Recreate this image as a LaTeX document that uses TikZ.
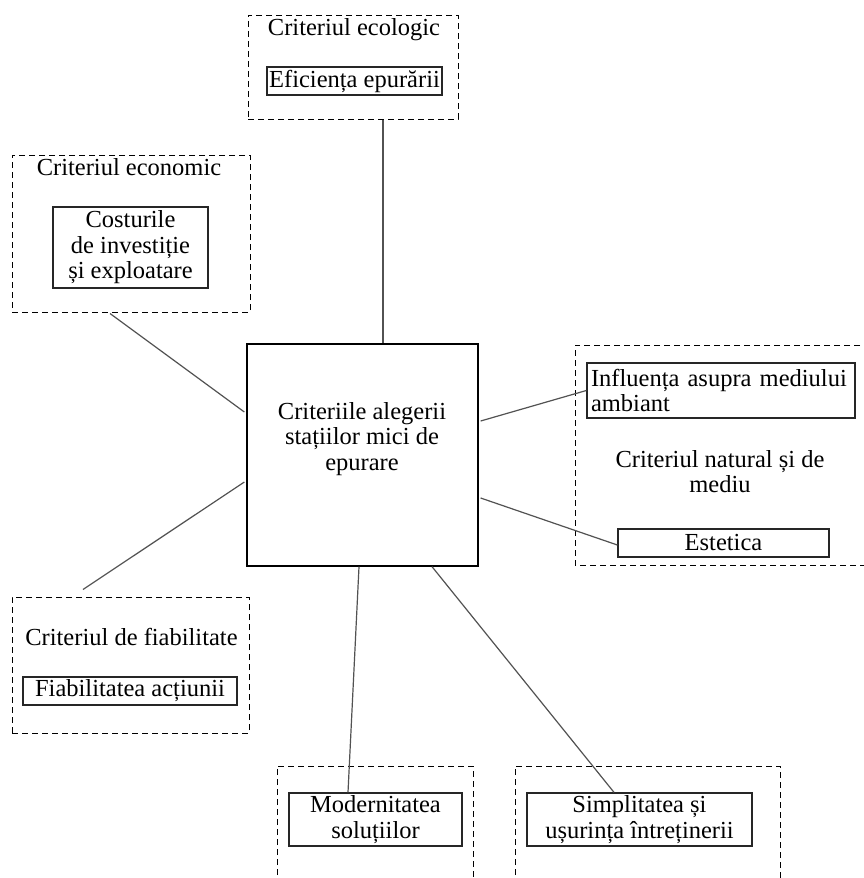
\documentclass[tikz,border=0pt]{standalone}
\usepackage{fontspec}
\setmainfont{Liberation Serif}
\usetikzlibrary{calc}
\begin{document}
\begin{tikzpicture}[x=1pt,y=-1pt,
  every node/.style={font=\fontsize{24.5}{25.5}\selectfont, inner sep=0pt, text=black},
  dbox/.style={draw=black, line width=1pt, dash pattern=on 6pt off 4pt},
  dline/.style={draw=black, line width=1pt, dash pattern=on 6pt off 4pt},
  sbox/.style={draw=black!85, line width=1.3pt, align=center},
  txt/.style={align=center},
  conn/.style={draw=black!68, line width=1.2pt}]
\useasboundingbox (0,0) rectangle (864,878);
\clip (0,0) rectangle (864,878);
\fill[white] (0,0) rectangle (864,878);

% ecologic
\node[dbox, minimum width=210pt, minimum height=104pt] (ecobox) at (353,67) {};
\node[txt, anchor=base] (ecotitle) at (354,35) {Criteriul ecologic};
\node[sbox, minimum width=175pt, minimum height=28pt] (eff) at (354.5,81) {Eficiența epurării};

% economic
\node[dbox, minimum width=238pt, minimum height=157pt] (econbox) at (131,233.5) {};
\node[txt, anchor=base] (econtitle) at (129,175) {Criteriul economic};
\node[sbox, minimum width=155pt, minimum height=81pt] (cost) at (130.5,247.5) {Costurile\\de investiție\\și exploatare};

% main
\node[draw=black, line width=1.3pt, minimum width=231pt, minimum height=222pt] (main) at (362.5,455) {};
\node[txt] (mainlabel) at (362,439) {Criteriile alegerii\\stațiilor mici de\\epurare};

% natural
\draw[dline] (870,345) -- (575,345) -- (575,565) -- (870,565);
\node[sbox, align=left, text width=260pt, inner xsep=4pt, minimum height=55pt,
      execute at begin node={\hyphenpenalty=10000\exhyphenpenalty=10000}] (inf) at (721,390.5) {Influența asupra mediului\\ambiant};
\node[txt] (nattext) at (720,471.5) {Criteriul natural și de\\mediu};
\node[sbox, minimum width=211pt, minimum height=28pt] (est) at (723.5,543) {Estetica};

% fiabilitate
\node[dbox, minimum width=237pt, minimum height=136pt] (fiabbox) at (130.5,665) {};
\node[txt, anchor=base] (fiabtitle) at (131.5,645) {Criteriul de fiabilitate};
\node[sbox, minimum width=214pt, minimum height=28pt] (act) at (130,691) {Fiabilitatea acțiunii};

% bottom
\draw[dline] (277,885) -- (277,766) -- (473,766) -- (473,885);
\node[sbox, minimum width=173pt, minimum height=53pt] (mod) at (375.5,819.5) {Modernitatea\\soluțiilor};
\draw[dline] (515,885) -- (515,766) -- (780,766) -- (780,885);
\node[sbox, minimum width=225pt, minimum height=53pt] (sim) at (639.5,819.5) {Simplitatea și\\ușurința întreținerii};

% connectors
\draw[conn] ($(ecobox.south)+(30,0)$) -- ($(main.north)+(20.5,0)$);
\draw[conn] ($(econbox.south)+(-21,1)$) -- ($(main.west)+(-2,-43)$);
\draw[conn] ($(fiabbox.north)+(-47.5,-7)$) -- ($(main.west)+(-2,27)$);
\draw[conn] ($(main.east)+(2,-34)$) -- (inf.west);
\draw[conn] ($(main.east)+(2,43)$) -- ($(est.west)+(0,2)$);
\draw[conn] ($(main.south)+(-3.5,0)$) -- ($(mod.north)+(-27.5,0)$);
\draw[conn] ($(main.south)+(69.5,0)$) -- ($(sim.north)+(-25.5,0)$);
\end{tikzpicture}
\end{document}
